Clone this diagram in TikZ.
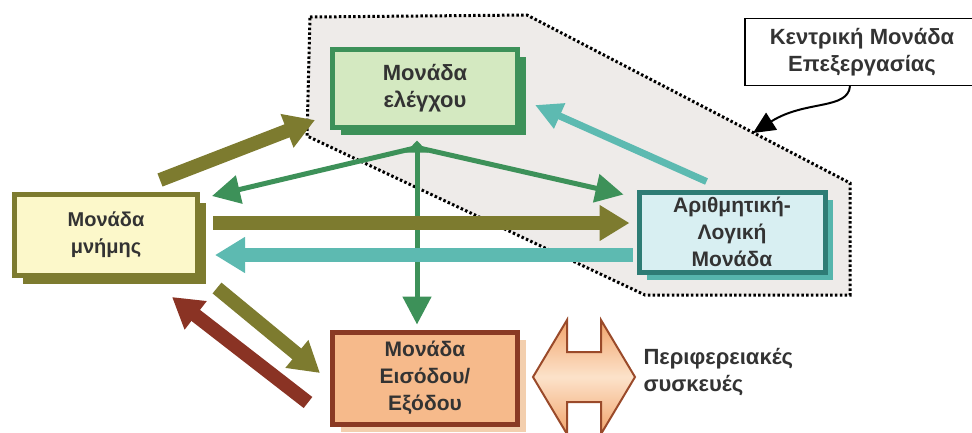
\documentclass[tikz,border=0pt]{standalone}
\usepackage{fontspec}
\setmainfont{Liberation Sans}
\usetikzlibrary{arrows.meta,calc,shadows}

\definecolor{memedge}{HTML}{7D7B2F}
\definecolor{memfill}{HTML}{FCF8CA}
\definecolor{ctrledge}{HTML}{3D9159}
\definecolor{ctrlfill}{HTML}{D4E9C1}
\definecolor{aluedge}{HTML}{2E7C75}
\definecolor{alushadow}{HTML}{56B5AC}
\definecolor{alufill}{HTML}{D8EFF2}
\definecolor{ioedge}{HTML}{8A3A24}
\definecolor{iofill}{HTML}{F6BA8B}
\definecolor{ioshadow}{HTML}{F3CFAE}
\definecolor{tealarrow}{HTML}{5DBAB1}
\definecolor{redarrow}{HTML}{8A3324}
\definecolor{cpufill}{HTML}{EEEBE9}
\definecolor{periphedge}{HTML}{9A4A2A}
\definecolor{periphfill}{HTML}{F2A56C}
\definecolor{periphlight}{HTML}{FCE2CA}

\tikzstyle{unit}=[rectangle,line width=5pt,align=center,inner sep=0pt,text=black!80]
\tikzstyle{fat arrow}=[line width=14pt,-{Triangle[length=30pt,width=34pt]}]
\tikzstyle{medium arrow}=[line width=7pt,-{Triangle[length=27pt,width=26pt]}]
\tikzstyle{ctrl link}=[line width=5pt,ctrledge]
\tikzstyle{cpu region}=[fill=cpufill,line width=3pt,dash pattern=on 2.5pt off 2.3pt]
\tikzstyle{caption}=[align=center,text=black!80,font=\fontsize{22}{27}\selectfont\bfseries]

\begin{document}
\begin{tikzpicture}[x=1pt,y=-1pt,>={Triangle[length=28pt,width=28pt]}]
      \useasboundingbox (0,0) rectangle (972,432);
      %cpu region
      \draw[cpu region] (310,17) -- (527,15) -- (850,183) -- (850,295) -- (645,295) -- (307,136) -- cycle;
      \coordinate (cpuedge) at (753,133);

      %nodes
      \foreach \nodename/\x/\y/\w/\h/\edgecolor/\fillcolor/\shadowcolor/\fs/\txt in {
        ctrl/425/88/185/78/ctrledge/ctrlfill/ctrledge/22/{Μονάδα\\ελέγχου},
        mem/106/235/183/81/memedge/memfill/memedge/20/{Μονάδα\\μνήμης},
        alu/732/232/186/80/aluedge/alufill/alushadow/21/{Αριθμητική-\\Λογική\\Μονάδα},
        io/425/378/185/92/ioedge/iofill/ioshadow/21/{Μονάδα\\Εισόδου/\\Εξόδου}}
      {
        \node[unit,draw=\edgecolor,fill=\fillcolor,minimum width=\w pt,minimum height=\h pt,
          font=\fontsize{\fs}{27}\selectfont\bfseries,
          general shadow={fill=\shadowcolor,shadow xshift=8pt,shadow yshift=-8pt}] (\nodename) at (\x,\y) {\txt};
      };
      \node[caption,draw,line width=1.2pt,minimum width=234pt,minimum height=67pt] (cpu) at (862,52) {Κεντρική Μονάδα\\Επεξεργασίας};
      \node[caption,anchor=west,align=left] (periph) at (640,372) {Περιφερειακές\\συσκευές};

      %link to the peripherals
      \draw[periphedge,line width=2pt,shading=axis,top color=periphfill,bottom color=periphfill,middle color=periphlight]
        (533,377) -- (567,320) -- (567,352) -- (601,352) -- (601,320) -- (635,377)
        -- (601,434) -- (601,402) -- (567,402) -- (567,434) -- cycle;

      %edges
      \coordinate (hub) at ($(ctrl.south)+(-8,18)$);
      \draw[ctrl link,{Triangle[length=12pt,width=22pt]}->] ($(ctrl.south)+(-8,11)$) -- ($(io.north)+(-8,-5)$);
      \draw[ctrl link,->] (hub) -- ($(mem.north east)+(12,4)$);
      \draw[ctrl link,->] (hub) -- ($(alu.north west)+(-13,5)$);

      \draw[fat arrow,memedge] ($(mem.north)+(54,-12)$) -- ($(ctrl.west)+(-15,32)$);
      \draw[fat arrow,memedge] ($(mem.east)+(13,-12)$) -- ($(alu.west)+(-7,-9)$);
      \draw[fat arrow,tealarrow] ($(alu.west)+(-4,23)$) -- ($(mem.east)+(15,20)$);
      \draw[fat arrow,memedge] ($(mem.south east)+(17,10)$) -- ($(io.west)+(-10,-5)$);
      \draw[fat arrow,redarrow] ($(io.south west)+(-22,-24)$) -- ($(mem.south)+(66,19)$);
      \draw[medium arrow,tealarrow] ($(alu.north west)+(70,-8)$) -- ($(ctrl.east)+(15,17)$);

      \draw[line width=2pt,-{Triangle[length=22pt,width=20pt]}] ($(cpu.south)+(-12,0)$) .. controls (848,110) and (805,100) .. (cpuedge);
\end{tikzpicture}
\end{document}
